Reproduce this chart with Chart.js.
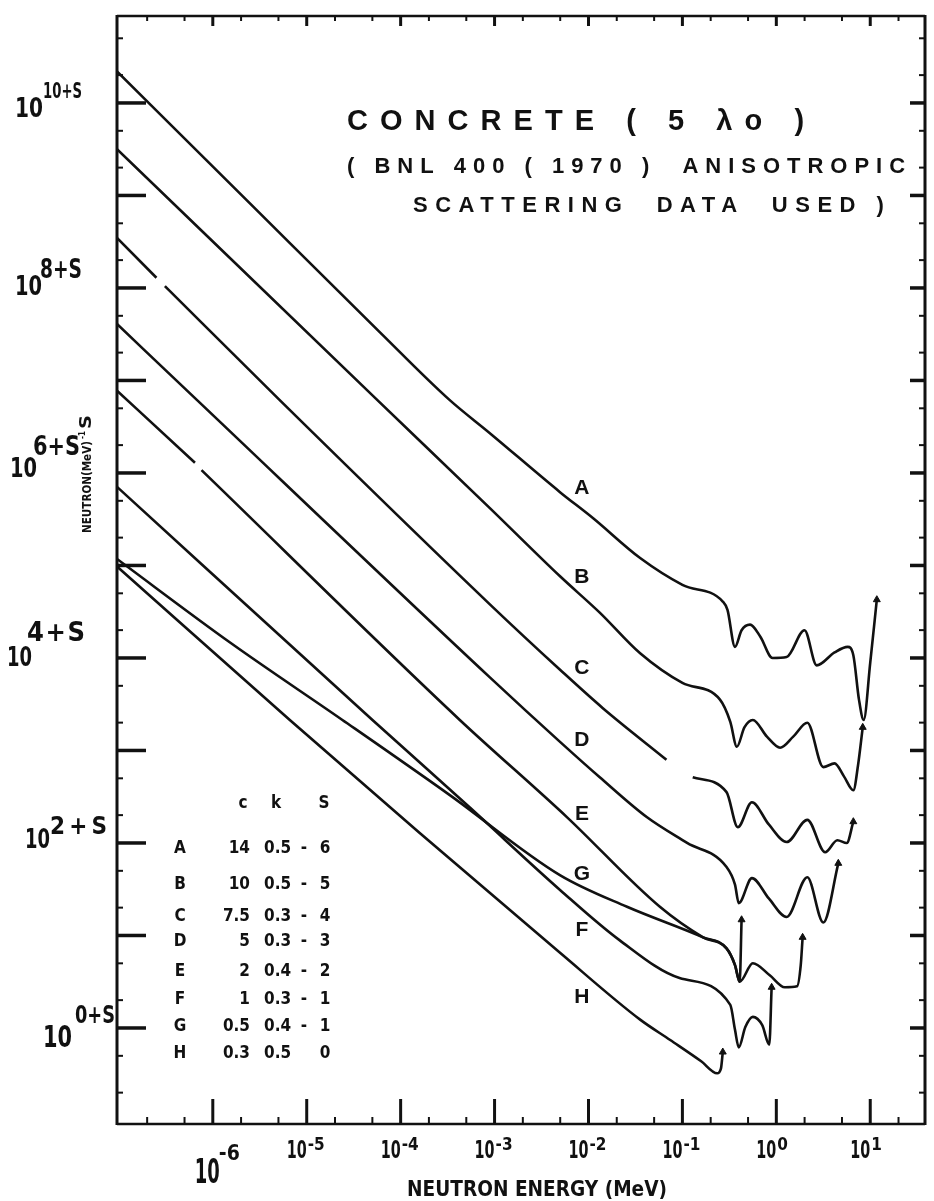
<!DOCTYPE html>
<html>
<head>
<meta charset="utf-8">
<title>Concrete (5 λo) neutron spectra</title>
<script src="https://cdn.jsdelivr.net/npm/chart.js@4.4.1/dist/chart.umd.min.js"></script>
<style>
html,body{margin:0;padding:0;background:#fff;}
#wrap{width:934px;height:1201px;}
canvas{display:block;}
</style>
</head>
<body>
<div id="wrap"><canvas id="chart" width="934" height="1201"></canvas></div>
<script>
// ---------------- data (log10 values) ----------------
const xDecades = [-6, -5, -4, -3, -2, -1, 0, 1];
const xTickLabels = ['-6', '-5', '-4', '-3', '-2', '-1', '0', '1'];
const yLabelDecades = [0, 2, 4, 6, 8, 10];
const yTickLabels = ['0+S', '2+S', '4+S', '6+S', '8+S', '10+S'];

const curveNames = ['A', 'B', 'C', 'D', 'E', 'F', 'G', 'H'];

// log10 neutron energy (MeV) and log10 flux (units of 10^(n+S))
const logE_A = [-7.02, -5.61, -4.22, -3.48, -3.05, -2.30, -1.95, -1.45, -1.00, -0.57, -0.52, -0.44, -0.37, -0.28, -0.17, -0.04, 0.11, 0.30, 0.43, 0.62, 0.76, 0.82, 0.88, 0.93, 1.00, 1.07];
const logFlux_A = [10.34, 8.92, 7.52, 6.79, 6.43, 5.79, 5.51, 5.08, 4.79, 4.61, 4.52, 4.12, 4.30, 4.36, 4.23, 4.00, 4.01, 4.30, 3.92, 4.06, 4.12, 4.03, 3.55, 3.33, 3.95, 4.63];

const logE_B = [-7.02, -4.25, -3.05, -2.30, -1.88, -1.45, -1.00, -0.60, -0.49, -0.42, -0.34, -0.25, -0.10, 0.04, 0.18, 0.33, 0.50, 0.62, 0.72, 0.82, 0.87, 0.92];
const logFlux_B = [9.50, 6.79, 5.62, 4.88, 4.49, 4.05, 3.73, 3.55, 3.31, 3.04, 3.25, 3.33, 3.15, 3.03, 3.15, 3.30, 2.82, 2.86, 2.72, 2.57, 2.84, 3.25];

const logE_C = [-7.02, -6.60, -6.55, -6.51, -5.29, -3.05, -2.30, -1.85, -1.17, -1.03, -0.89, -0.53, -0.41, -0.26, -0.08, 0.11, 0.33, 0.52, 0.65, 0.75, 0.82];
const logFlux_C = [8.54, 8.11, null, 8.02, 6.79, 4.58, 3.87, 3.46, 2.90, null, 2.71, 2.55, 2.17, 2.44, 2.20, 2.01, 2.25, 1.90, 2.03, 2.00, 2.23];

const logE_D = [-7.02, -6.17, -3.05, -2.30, -1.88, -1.38, -0.95, -0.53, -0.44, -0.40, -0.26, -0.08, 0.11, 0.33, 0.50, 0.66];
const logFlux_D = [7.61, 6.79, 3.79, 3.09, 2.71, 2.28, 2.00, 1.74, 1.55, 1.35, 1.62, 1.40, 1.20, 1.63, 1.14, 1.78];

const logE_E = [-7.02, -6.19, -6.155, -6.12, -3.37, -2.23, -1.24, -0.78, -0.53, -0.44, -0.39, -0.25, -0.07, 0.09, 0.22, 0.26, 0.28];
const logFlux_E = [6.89, 6.11, null, 6.03, 3.33, 2.28, 1.31, 0.98, 0.86, 0.68, 0.50, 0.70, 0.57, 0.44, 0.45, 0.68, 0.98];

const logE_F = [-7.02, -4.30, -3.26, -2.30, -1.67, -1.03, -0.49, -0.44, -0.40, -0.33, -0.25, -0.15, -0.075, -0.05];
const logFlux_F = [5.85, 3.33, 2.38, 1.49, 0.95, 0.54, 0.25, -0.02, -0.21, 0.01, 0.12, 0.03, -0.18, 0.44];

const logE_G = [-7.02, -5.82, -4.62, -3.48, -2.30, -1.59, -0.78, -0.53, -0.44, -0.39, -0.37];
const logFlux_G = [5.07, 4.17, 3.33, 2.52, 1.65, 1.31, 0.98, 0.86, 0.68, 0.50, 1.17];

const logE_H = [-7.02, -5.18, -3.80, -2.30, -1.45, -1.13, -0.80, -0.63, -0.59, -0.57];
const logFlux_H = [4.99, 3.33, 2.11, 0.81, 0.09, -0.13, -0.36, -0.49, -0.44, -0.26];

// curve label anchors (log10 E, log10 flux)
const labelLogE = [-2.07, -2.07, -2.07, -2.07, -2.07, -2.07, -2.07, -2.07];
const labelLogFlux = [5.86, 4.90, 3.91, 3.14, 2.34, 1.08, 1.69, 0.36];

// parameter table
const tableHeader = ['c', 'k', 'S'];
const tableLetters = ['A', 'B', 'C', 'D', 'E', 'F', 'G', 'H'];
const tableC = ['14', '10', '7.5', '5', '2', '1', '0.5', '0.3'];
const tableK = ['0.5', '0.5', '0.3', '0.3', '0.4', '0.3', '0.4', '0.5'];
const tableSign = ['-', '-', '-', '-', '-', '-', '-', ''];
const tableS = ['6', '5', '4', '3', '2', '1', '1', '0'];

// ---------------- styling / layout ----------------
const INK = '#111';
const NARROW = "'Liberation Sans Narrow','DejaVu Sans Condensed','Liberation Sans','DejaVu Sans',sans-serif";
const SANS = "'Liberation Sans','DejaVu Sans',sans-serif";
const L2 = Math.log10(2), L5 = Math.log10(5);

const series = [
  [logE_A, logFlux_A], [logE_B, logFlux_B], [logE_C, logFlux_C], [logE_D, logFlux_D],
  [logE_E, logFlux_E], [logE_F, logFlux_F], [logE_G, logFlux_G], [logE_H, logFlux_H]
];

function seg(ctx, x1, y1, x2, y2) { ctx.beginPath(); ctx.moveTo(x1, y1); ctx.lineTo(x2, y2); ctx.stroke(); }

function fitText(ctx, text, x0, x1, y, font) {
  ctx.save();
  ctx.font = font;
  ctx.textAlign = 'left';
  ctx.textBaseline = 'alphabetic';
  const hasLS = ('letterSpacing' in ctx);
  if (hasLS) ctx.letterSpacing = '0px';
  const w = ctx.measureText(text).width;
  const target = x1 - x0;
  const n = Array.from(text).length;
  if (w < target && n > 1 && hasLS) {
    ctx.letterSpacing = ((target - w) / (n - 1)).toFixed(2) + 'px';
    ctx.fillText(text, x0, y);
  } else {
    ctx.translate(x0, y);
    ctx.scale(target / w, 1);
    ctx.fillText(text, 0, 0);
  }
  ctx.restore();
}

function plainText(ctx, text, x, y, font, align) {
  ctx.save();
  ctx.font = font; ctx.textAlign = align || 'left'; ctx.textBaseline = 'alphabetic';
  if ('letterSpacing' in ctx) ctx.letterSpacing = '0px';
  ctx.fillText(text, x, y);
  ctx.restore();
}

// y label placement (per label, order of yLabelDecades)
const yBaseBox = [[43, 72], [25, 50], [7, 32], [10, 37], [15, 42], [15, 43]];
const yBaseDy = [19, 5, 8, 4, 7, 14];
const ySupBox = [[75, 115], [50, 107], [27, 85], [33, 80], [40, 82], [43, 82]];
const ySupDy = [-5, -9, -17, -18, -10, -5];
const ySupFont = [24, 24, 27, 27, 27, 22];

const decor = {
  id: 'decor',
  afterDraw(chart) {
    const { ctx, chartArea: a } = chart;
    const xs = chart.scales.x, ys = chart.scales.y;
    ctx.save();
    ctx.strokeStyle = INK; ctx.fillStyle = INK; ctx.lineCap = 'butt';

    // frame
    ctx.lineWidth = 3;
    seg(ctx, a.left, a.top - 1, a.left, a.bottom + 1);
    seg(ctx, a.right, a.top - 1, a.right, a.bottom + 1);
    ctx.lineWidth = 2.5;
    seg(ctx, a.left, a.bottom, a.right, a.bottom);
    seg(ctx, a.left, a.top, a.right, a.top);

    // x ticks (bottom inward, top inward)
    for (let d = Math.floor(xs.min); d <= Math.ceil(xs.max); d++) {
      [[d, 25, 10, 3], [d + L2, 7, 5, 2], [d + L5, 7, 5, 2]].forEach(([v, lb, lt, lw]) => {
        if (v <= xs.min + 0.03 || v >= xs.max - 0.03) return;
        const px = xs.getPixelForValue(v);
        ctx.lineWidth = lw;
        seg(ctx, px, a.bottom, px, a.bottom - lb);
        seg(ctx, px, a.top, px, a.top + lt);
      });
    }
    // y ticks (left inward, right inward)
    for (let d = Math.floor(ys.min); d <= Math.ceil(ys.max); d++) {
      [[d, 29, 15, 3.5], [d + L2, 6, 6, 2], [d + L5, 6, 6, 2]].forEach(([v, ll, lr, lw]) => {
        if (v <= ys.min + 0.06 || v >= ys.max - 0.06) return;
        const py = ys.getPixelForValue(v);
        ctx.lineWidth = lw;
        seg(ctx, a.left, py, a.left + ll, py);
        seg(ctx, a.right, py, a.right - lr, py);
      });
    }

    // x tick labels
    xDecades.forEach((d, i) => {
      const px = xs.getPixelForValue(d);
      if (i === 0) {
        fitText(ctx, '10', px - 18, px + 7, 1183, `bold 34px ${NARROW}`);
        plainText(ctx, xTickLabels[i], px + 6, 1160, `bold 21px ${NARROW}`);
      } else {
        fitText(ctx, '10', px - 20, px, 1158, `bold 25px ${NARROW}`);
        plainText(ctx, xTickLabels[i], px + 1, 1150, `bold 17px ${NARROW}`);
      }
    });
    // x axis title
    fitText(ctx, 'NEUTRON ENERGY (MeV)', 407, 667, 1196, `bold 21px ${NARROW}`);

    // y tick labels
    yLabelDecades.forEach((d, i) => {
      const py = ys.getPixelForValue(d);
      fitText(ctx, '10', yBaseBox[i][0], yBaseBox[i][1], py + yBaseDy[i], `bold ${i === 0 ? 30 : 27}px ${NARROW}`);
      fitText(ctx, yTickLabels[i], ySupBox[i][0], ySupBox[i][1], py + ySupDy[i], `bold ${ySupFont[i]}px ${NARROW}`);
    });
    // y axis title (vertical)
    ctx.save();
    ctx.translate(91, 533);
    ctx.rotate(-Math.PI / 2);
    fitText(ctx, 'NEUTRON(MeV)', 0, 92, 0, `bold 13px ${NARROW}`);
    fitText(ctx, '-1', 94, 102, -6, `bold 9px ${NARROW}`);
    fitText(ctx, 'S', 104, 118, 0, `bold 16px ${NARROW}`);
    ctx.restore();

    // titles
    fitText(ctx, 'CONCRETE ( 5 λo )', 347, 804, 130, `bold 29px ${SANS}`);
    fitText(ctx, '( BNL 400 ( 1970 )  ANISOTROPIC', 347, 905, 173, `bold 22px ${SANS}`);
    fitText(ctx, 'SCATTERING  DATA  USED )', 413, 884, 212, `bold 22px ${SANS}`);

    // curve labels
    curveNames.forEach((n, i) => {
      const px = xs.getPixelForValue(labelLogE[i]);
      const py = ys.getPixelForValue(labelLogFlux[i]);
      plainText(ctx, n, px, py + 8, `bold 21px ${SANS}`, 'center');
    });

    // parameter table
    const tf = `bold 17px ${NARROW}`;
    plainText(ctx, tableHeader[0], 243, 808, tf, 'center');
    plainText(ctx, tableHeader[1], 276, 808, tf, 'center');
    plainText(ctx, tableHeader[2], 324, 808, tf, 'center');
    const rowBase = [853, 889, 921, 946, 976, 1004, 1031, 1058];
    tableLetters.forEach((l, i) => {
      const y = rowBase[i];
      plainText(ctx, l, 180, y, tf, 'center');
      plainText(ctx, tableC[i], 250, y, tf, 'right');
      plainText(ctx, tableK[i], 264, y, tf, 'left');
      if (tableSign[i]) plainText(ctx, tableSign[i], 304, y, tf, 'center');
      plainText(ctx, tableS[i], 325, y, tf, 'center');
    });
    ctx.restore();
  }
};

const datasets = series.map(([xs, ys], k) => ({
  label: curveNames[k],
  data: xs.map((v, i) => ({ x: v, y: ys[i] })),
  borderColor: INK,
  borderWidth: 2.6,
  fill: false,
  spanGaps: false,
  cubicInterpolationMode: 'monotone',
  pointStyle: 'triangle',
  pointRadius: c => (c.dataIndex === xs.length - 1 ? 4 : 0),
  pointBackgroundColor: INK,
  pointBorderColor: INK,
  pointBorderWidth: 1
}));

new Chart(document.getElementById('chart').getContext('2d'), {
  type: 'line',
  data: { datasets },
  options: {
    responsive: false,
    animation: false,
    devicePixelRatio: 1,
    layout: { padding: { left: 117, right: 9, top: 16, bottom: 77 } },
    plugins: { legend: { display: false }, tooltip: { enabled: false }, title: { display: false } },
    scales: {
      x: { type: 'linear', min: -7.02, max: 1.583, display: false },
      y: { type: 'linear', min: -1.038, max: 10.94, display: false }
    }
  },
  plugins: [decor]
});
</script>
</body>
</html>
